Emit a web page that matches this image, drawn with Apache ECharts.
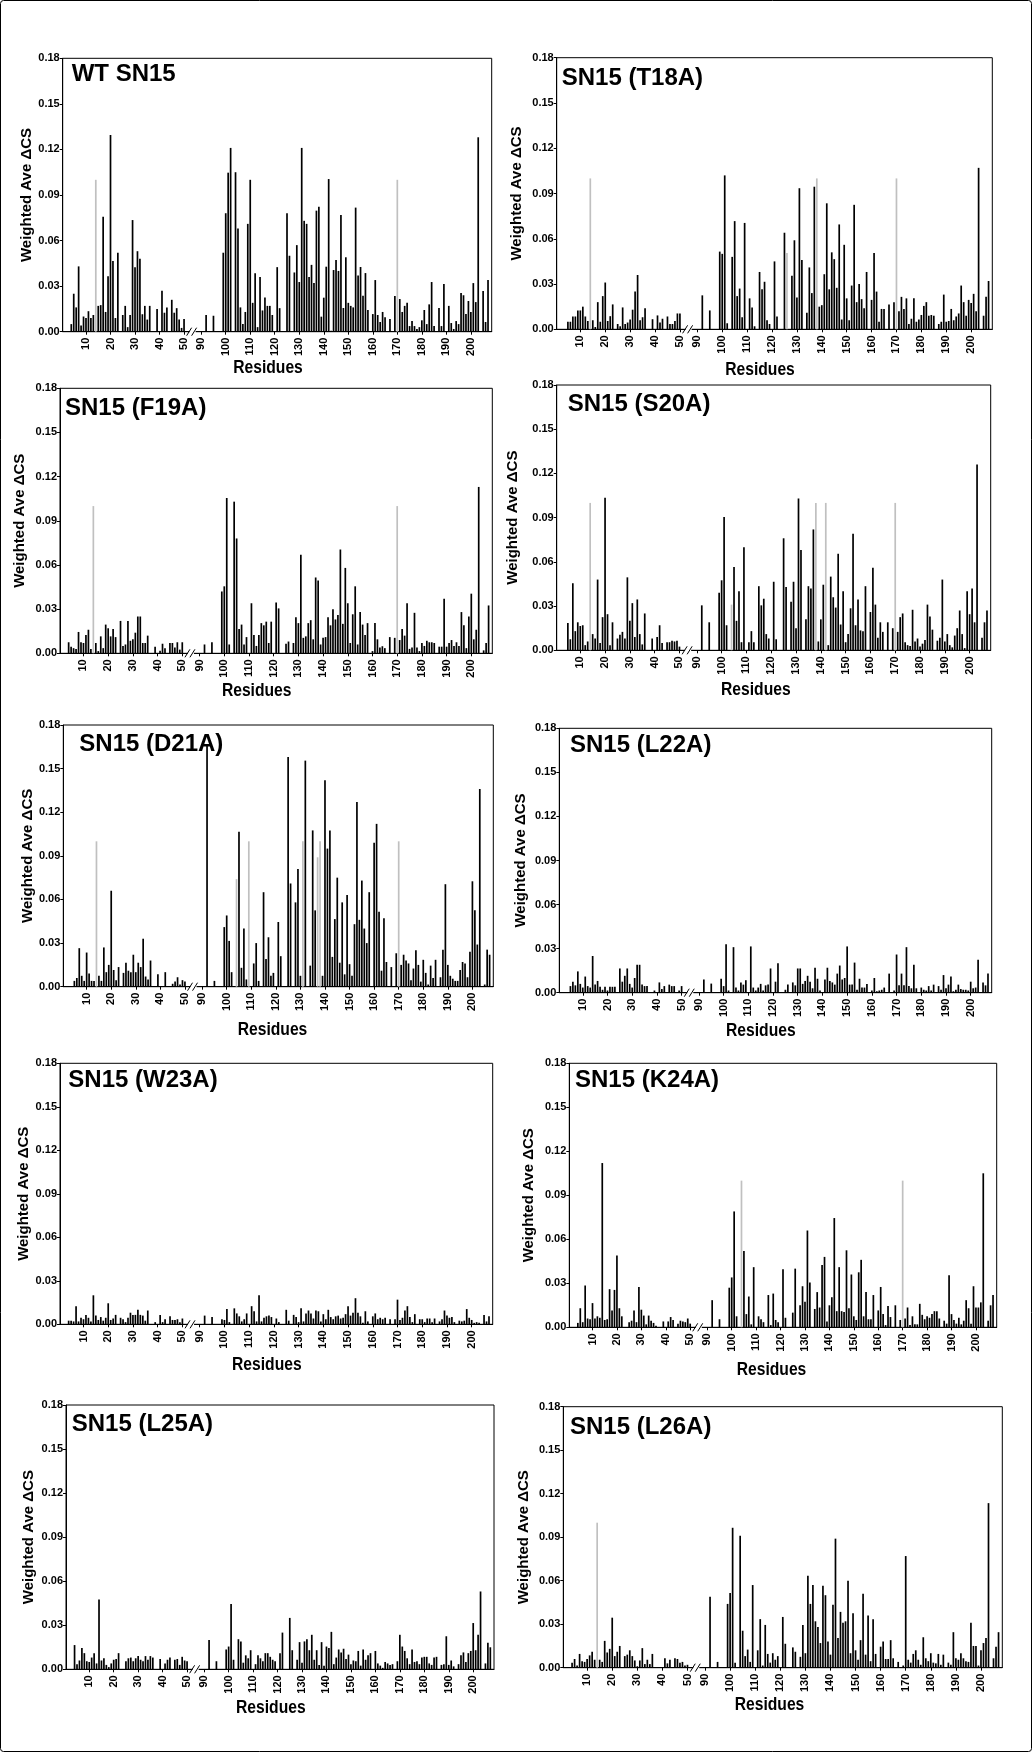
<!DOCTYPE html>
<html><head><meta charset="utf-8">
<script src="https://cdn.jsdelivr.net/npm/echarts@6/dist/echarts.min.js"></script>
<style>html,body{margin:0;padding:0;background:#fff}#c{width:1032px;height:1752px}</style>
</head><body><div id="c"></div><script>
// ---- categories (residues, axis broken between 53 and 87) ----
const RESIDUES = [];
for (let r = 1; r <= 53; r++) RESIDUES.push(String(r));
for (let r = 87; r <= 208; r++) RESIDUES.push(String(r));
const TICK_LABELS = ['10','20','30','40','50','90','100','110','120','130','140','150','160','170','180','190','200'];
const Y_TICKS = [0, 0.03, 0.06, 0.09, 0.12, 0.15, 0.18];

// ---- data: [residue, weighted average delta CS] ----
const WT_SN15 = [[4,.005],[5,.025],[6,.016],[7,.043],[8,.004],[9,.010],[10,.009],[11,.0135],[12,.009],[13,.011],[15,.017],[16,.0175],[17,.0757],[18,.013],[19,.0365],[20,.1295],[21,.0465],[22,.009],[23,.052],[25,.011],[26,.017],[27,.003],[28,.011],[29,.0735],[30,.0425],[31,.053],[32,.048],[33,.0115],[34,.017],[35,.008],[36,.017],[39,.015],[41,.027],[42,.0125],[43,.016],[45,.021],[46,.0125],[47,.0155],[48,.008],[49,.0025],[50,.0083],
[92,.011],[95,.0105],[99,.052],[100,.078],[101,.1047],[102,.121],[104,.105],[105,.068],[106,.016],[107,.005],[108,.013],[109,.071],[110,.10],[111,.019],[112,.0385],[113,.003],[114,.036],[115,.014],[116,.0225],[117,.017],[118,.017],[119,.011],[121,.0425],[122,.0155],[125,.078],[126,.05],[128,.039],[129,.057],[130,.0327],[131,.121],[132,.073],[133,.071],[134,.036],[135,.044],[136,.032],[137,.0797],[138,.0823],[139,.0099],[140,.0224],[141,.0428],[142,.1005],[143,.0007],[144,.0406],[145,.0472],[146,.040],[147,.0768],[148,.0156],[149,.049],[150,.019],[151,.017],[152,.016],[153,.0817],[154,.037],[155,.0426],[156,.0237],[157,.0386],[158,.0143],[160,.0116],[161,.034],[162,.011],[163,.0064],[164,.013],[165,.0095],[167,.0083],[169,.0235],[171,.0215],[172,.013],[173,.017],[174,.019],[175,.0037],[176,.007],[177,.0037],[178,.0018],[179,.003],[180,.0075],[181,.0143],[182,.005],[183,.018],[184,.0327],[185,.0037],[187,.0156],[188,.0037],[189,.0314],[191,.017],[192,.0057],[193,.0018],[194,.007],[195,.005],[196,.0255],[197,.024],[198,.0116],[199,.0202],[200,.013],[201,.032],[202,.0195],[203,.128],[205,.0268],[206,.0064],[207,.034]];
const WT_SN15_GREY = [[14,.10],[170,.10]];

const T18A = [[5,.005],[6,.005],[7,.0085],[8,.0085],[9,.0125],[10,.0125],[11,.015],[12,.0085],[13,.0055],[15,.006],[16,.0015],[17,.018],[18,.005],[19,.022],[20,.031],[21,.0055],[22,.0087],[23,.0165],[25,.0035],[26,.002],[27,.0145],[28,.0035],[29,.0045],[30,.0065],[31,.013],[32,.025],[33,.036],[34,.006],[35,.008],[36,.014],[39,.0067],[41,.0092],[42,.0045],[43,.007],[45,.0085],[46,.0035],[47,.0035],[48,.0055],[49,.0105],[50,.0105],
[92,.0225],[95,.0125],[99,.0515],[100,.050],[101,.102],[102,.004],[104,.048],[105,.0717],[106,.022],[107,.027],[108,.008],[109,.0705],[111,.0205],[112,.0145],[113,.002],[115,.038],[116,.0265],[117,.0315],[118,.006],[119,.0035],[121,.045],[122,.0085],[125,.064],[128,.0355],[129,.059],[130,.021],[131,.0935],[132,.046],[134,.011],[135,.041],[136,.024],[137,.0945],[139,.015],[140,.016],[141,.0365],[142,.0835],[143,.0265],[144,.051],[145,.0465],[146,.0275],[147,.0695],[148,.0065],[149,.056],[150,.0205],[151,.006],[152,.029],[153,.0825],[154,.018],[155,.030],[156,.020],[157,.014],[158,.038],[160,.0195],[161,.0505],[162,.025],[163,.005],[164,.0135],[165,.0135],[167,.0165],[169,.018],[171,.012],[172,.0215],[173,.0135],[174,.0205],[175,.0035],[176,.007],[177,.0205],[178,.005],[179,.0065],[180,.0095],[181,.0155],[182,.018],[183,.009],[184,.0095],[185,.009],[187,.0035],[188,.005],[189,.023],[190,.005],[191,.0055],[192,.0135],[193,.006],[194,.0085],[195,.0105],[196,.029],[197,.018],[198,.009],[199,.0195],[200,.0175],[201,.0235],[202,.012],[203,.107],[205,.009],[206,.0215],[207,.032]];
const T18A_GREY = [[14,.10],[126,.0505],[138,.10],[170,.10]];

const F19A = [[4,.0075],[5,.0045],[6,.0035],[7,.003],[8,.0145],[9,.0075],[10,.007],[11,.0125],[12,.016],[13,.003],[15,.007],[16,.0015],[17,.0115],[18,.0035],[19,.0195],[20,.017],[21,.0115],[22,.0165],[23,.011],[25,.022],[26,.005],[27,.006],[28,.022],[29,.0085],[30,.0095],[31,.014],[32,.025],[33,.025],[34,.007],[35,.007],[36,.012],[39,.0045],[41,.0017],[42,.0065],[43,.0035],[45,.007],[46,.007],[47,.004],[48,.0075],[49,.0025],[50,.0075],
[92,.006],[95,.0075],[99,.042],[100,.0455],[101,.1055],[102,.006],[104,.103],[105,.078],[106,.0165],[107,.0195],[108,.006],[109,.011],[111,.034],[112,.0125],[113,.005],[114,.0125],[115,.0205],[116,.019],[117,.0215],[118,.007],[119,.0215],[121,.0345],[122,.0305],[125,.0065],[126,.008],[128,.007],[129,.0245],[130,.0205],[131,.067],[132,.0105],[133,.0115],[134,.0205],[135,.0225],[136,.0095],[137,.0515],[138,.0495],[139,.006],[140,.0105],[141,.011],[142,.0245],[143,.019],[144,.030],[145,.023],[146,.026],[147,.0705],[148,.020],[149,.058],[150,.034],[151,.007],[152,.0265],[153,.0455],[154,.006],[155,.028],[156,.0195],[157,.0125],[158,.0205],[160,.0015],[161,.0205],[162,.0095],[163,.004],[164,.0048],[165,.0035],[167,.011],[169,.0105],[171,.009],[172,.0165],[173,.012],[174,.034],[175,.003],[176,.004],[177,.0275],[178,.004],[179,.0015],[180,.007],[181,.005],[182,.0085],[183,.0075],[184,.0075],[185,.007],[187,.0045],[188,.0045],[189,.037],[190,.0045],[191,.007],[192,.009],[193,.005],[194,.0075],[195,.005],[196,.028],[197,.019],[198,.0035],[199,.025],[200,.0405],[201,.0095],[202,.016],[203,.113],[205,.002],[206,.007],[207,.0325]];
const F19A_GREY = [[14,.10],[170,.10]];

const S20A = [[5,.0185],[6,.0075],[7,.0455],[8,.013],[9,.019],[10,.0165],[11,.017],[12,.0035],[13,.006],[15,.011],[16,.008],[17,.048],[18,.005],[19,.0225],[20,.1035],[21,.0245],[22,.0035],[23,.019],[25,.008],[26,.0105],[27,.0125],[28,.008],[29,.0495],[30,.020],[31,.032],[32,.009],[33,.0345],[34,.011],[35,.004],[36,.025],[39,.008],[41,.009],[42,.017],[43,.005],[45,.0055],[46,.0055],[47,.0065],[48,.006],[49,.0065],[50,.0025],
[92,.0305],[95,.019],[99,.039],[100,.0475],[101,.0905],[102,.017],[105,.0565],[106,.020],[107,.040],[108,.0055],[109,.070],[111,.0055],[112,.013],[113,.0055],[115,.0435],[116,.0305],[117,.035],[118,.011],[119,.008],[121,.0465],[122,.0075],[125,.076],[126,.043],[128,.033],[129,.0465],[130,.015],[131,.103],[132,.068],[134,.021],[135,.0435],[136,.042],[137,.082],[139,.006],[140,.021],[141,.0445],[143,.0035],[144,.050],[145,.036],[146,.029],[147,.0655],[148,.0175],[149,.040],[150,.0055],[151,.011],[152,.0285],[153,.079],[154,.017],[155,.0345],[156,.0135],[157,.013],[158,.0435],[160,.026],[161,.056],[162,.031],[163,.0085],[164,.019],[165,.0125],[167,.019],[169,.015],[171,.0125],[172,.0225],[173,.025],[174,.0055],[175,.0035],[176,.003],[177,.0275],[178,.006],[179,.008],[180,.0025],[181,.0045],[182,.007],[183,.031],[184,.023],[185,.014],[187,.0065],[188,.0085],[189,.048],[190,.006],[191,.011],[192,.0035],[193,.002],[194,.010],[195,.015],[196,.027],[197,.011],[198,.0015],[199,.040],[200,.0245],[201,.042],[202,.019],[203,.126],[205,.0085],[206,.019],[207,.027]];
const S20A_GREY = [[14,.10],[104,.031],[138,.10],[142,.10],[170,.10]];

const D21A = [[5,.004],[6,.006],[7,.0265],[8,.0075],[9,.004],[10,.0235],[11,.009],[12,.004],[13,.004],[15,.0075],[16,.004],[17,.027],[18,.010],[19,.015],[20,.066],[21,.0115],[22,.0045],[23,.0135],[25,.0095],[26,.0165],[27,.011],[28,.010],[29,.022],[30,.010],[31,.0165],[32,.0135],[33,.033],[34,.007],[35,.005],[36,.018],[39,.0085],[41,.0005],[42,.010],[45,.002],[46,.0035],[47,.0065],[48,.0015],[49,.0045],[50,.0035],
[92,.167],[95,.004],[99,.041],[100,.049],[101,.0315],[102,.010],[105,.1065],[106,.013],[107,.040],[108,.005],[111,.016],[112,.030],[113,.004],[115,.065],[116,.019],[117,.034],[118,.0075],[119,.0095],[121,.0445],[122,.021],[125,.158],[126,.071],[128,.058],[129,.081],[130,.0075],[132,.1555],[134,.0145],[135,.1075],[136,.0525],[139,.0075],[140,.142],[141,.095],[142,.1075],[143,.0205],[144,.0465],[145,.075],[146,.0165],[147,.058],[148,.0085],[149,.063],[150,.0155],[151,.0075],[152,.043],[153,.127],[154,.046],[155,.073],[156,.040],[157,.030],[158,.065],[160,.099],[161,.112],[162,.0515],[163,.011],[164,.047],[165,.017],[167,.0135],[169,.023],[171,.015],[172,.022],[173,.018],[174,.016],[175,.0045],[176,.0125],[177,.025],[178,.015],[179,.0035],[180,.0185],[181,.0095],[182,.0015],[183,.0145],[184,.006],[185,.0185],[187,.0065],[188,.0255],[189,.0705],[190,.015],[191,.0075],[192,.0055],[193,.004],[194,.004],[195,.0115],[196,.017],[197,.016],[198,.0065],[199,.024],[200,.0725],[201,.0525],[202,.029],[203,.136],[205,.0015],[206,.0255],[207,.022]];
const D21A_GREY = [[14,.10],[104,.074],[109,.10],[131,.10],[137,.089],[138,.10],[170,.10]];

const L22A = [[5,.0045],[6,.0075],[7,.005],[8,.0145],[9,.006],[10,.0035],[11,.011],[12,.0045],[13,.0035],[14,.025],[15,.0055],[16,.008],[17,.004],[18,.002],[19,.004],[20,.0015],[21,.004],[22,.004],[23,.004],[25,.0165],[26,.0075],[27,.0115],[28,.0165],[29,.006],[30,.0035],[31,.010],[32,.019],[33,.019],[34,.0055],[35,.0045],[36,.0045],[39,.0015],[41,.007],[42,.0025],[43,.0045],[45,.0055],[46,.0045],[47,.0045],[49,.0015],[50,.0045],
[92,.009],[95,.0062],[99,.0095],[100,.0045],[101,.033],[102,.0015],[104,.031],[105,.0035],[106,.0015],[107,.007],[108,.0055],[109,.0085],[111,.0315],[112,.0035],[113,.0015],[114,.0035],[115,.006],[116,.0015],[117,.005],[118,.0055],[119,.0165],[121,.0075],[122,.020],[125,.002],[126,.0055],[128,.007],[129,.005],[130,.0165],[131,.0165],[132,.006],[133,.008],[134,.0115],[135,.0075],[136,.003],[137,.017],[138,.0095],[139,.0015],[141,.009],[142,.017],[143,.008],[144,.007],[145,.0055],[146,.013],[147,.0185],[148,.009],[149,.010],[150,.0315],[151,.0055],[152,.0055],[153,.0205],[154,.002],[155,.0095],[156,.0035],[157,.0035],[158,.006],[160,.0015],[161,.010],[162,.001],[163,.0015],[164,.002],[165,.0035],[167,.013],[169,.0015],[170,.026],[171,.005],[172,.013],[173,.005],[174,.031],[175,.0045],[176,.003],[177,.019],[178,.003],[180,.0035],[181,.002],[182,.0015],[183,.0045],[184,.0015],[185,.0055],[187,.0045],[188,.002],[189,.012],[190,.003],[191,.0055],[192,.011],[193,.001],[194,.002],[195,.0055],[196,.0025],[197,.002],[198,.002],[199,.0015],[200,.0075],[201,.003],[202,.0035],[203,.0225],[205,.007],[206,.005],[207,.013]];
const L22A_GREY = [];

const W23A = [[4,.0025],[5,.0025],[6,.002],[7,.0125],[8,.002],[9,.0045],[10,.0035],[11,.0065],[12,.0045],[13,.002],[14,.020],[15,.006],[16,.003],[17,.005],[18,.0025],[19,.0045],[20,.0145],[21,.003],[22,.004],[23,.0065],[25,.0045],[26,.0035],[27,.0015],[28,.0045],[29,.008],[30,.0065],[31,.0065],[32,.010],[33,.0065],[34,.006],[35,.0025],[36,.0095],[39,.0015],[41,.0065],[42,.0015],[43,.0035],[45,.0055],[46,.003],[47,.003],[48,.0035],[49,.0015],[50,.004],
[92,.006],[95,.005],[99,.0035],[100,.003],[101,.0105],[102,.0015],[104,.011],[105,.0075],[106,.0055],[107,.002],[108,.0035],[109,.0075],[111,.0125],[112,.009],[113,.002],[114,.020],[115,.002],[116,.0045],[117,.0055],[118,.006],[119,.005],[121,.004],[122,.0015],[125,.010],[126,.0025],[128,.0065],[129,.005],[130,.0015],[131,.011],[132,.002],[133,.0075],[134,.0095],[135,.0075],[136,.004],[137,.0095],[138,.009],[139,.002],[140,.007],[141,.0035],[142,.010],[143,.005],[144,.0035],[145,.0055],[146,.006],[147,.004],[148,.0045],[149,.007],[150,.0125],[151,.006],[152,.008],[153,.018],[154,.008],[155,.0055],[156,.001],[157,.009],[158,.002],[160,.0055],[161,.0075],[162,.0035],[163,.0045],[164,.0035],[165,.0045],[167,.0035],[169,.0035],[170,.017],[171,.003],[172,.0045],[173,.0095],[174,.0125],[175,.005],[176,.0015],[177,.007],[179,.0035],[180,.0035],[181,.0015],[182,.004],[183,.004],[184,.0015],[185,.004],[187,.002],[188,.0035],[189,.0095],[190,.006],[191,.0045],[192,.005],[193,.0015],[195,.0025],[196,.002],[197,.0025],[198,.0105],[199,.0045],[200,.003],[201,.001],[202,.0015],[203,.001],[205,.0065],[206,.002],[207,.0055]];
const W23A_GREY = [];

const K24A = [[4,.003],[5,.013],[6,.0035],[7,.0285],[8,.006],[9,.0055],[10,.0165],[11,.006],[12,.0075],[13,.0065],[14,.112],[15,.005],[16,.0055],[17,.026],[18,.0115],[19,.0255],[20,.049],[21,.013],[22,.0075],[25,.0035],[26,.0045],[27,.0115],[28,.0035],[29,.0275],[30,.012],[31,.008],[32,.002],[33,.008],[34,.0045],[35,.003],[36,.001],[39,.004],[41,.004],[42,.007],[43,.005],[45,.0025],[46,.0045],[47,.004],[48,.0035],[49,.006],[50,.0025],
[92,.0185],[95,.0055],[99,.027],[100,.034],[101,.079],[102,.0075],[105,.052],[106,.009],[107,.021],[108,.002],[109,.041],[111,.0075],[112,.0055],[113,.0035],[115,.022],[116,.0015],[117,.023],[118,.005],[119,.0035],[121,.0395],[122,.0065],[125,.010],[126,.040],[128,.015],[129,.028],[130,.0175],[131,.066],[132,.0305],[134,.0125],[135,.024],[136,.0135],[137,.0425],[138,.048],[139,.004],[140,.015],[141,.0205],[142,.0745],[143,.011],[144,.041],[145,.011],[146,.0105],[147,.0525],[148,.013],[149,.036],[150,.0075],[151,.005],[152,.0375],[153,.046],[154,.0075],[155,.024],[156,.0055],[157,.0055],[158,.022],[160,.0115],[161,.0275],[162,.009],[163,.0015],[164,.0145],[165,.007],[167,.015],[169,.005],[171,.006],[172,.0135],[173,.0015],[174,.0075],[175,.002],[176,.002],[177,.016],[178,.0085],[179,.0055],[180,.0075],[181,.0065],[182,.009],[183,.011],[184,.011],[185,.006],[187,.0045],[188,.0025],[189,.0355],[190,.009],[191,.005],[192,.0025],[193,.0065],[194,.002],[195,.0045],[196,.0185],[197,.013],[198,.0025],[199,.028],[200,.0135],[201,.0135],[202,.017],[203,.105],[205,.0045],[206,.015],[207,.022]];
const K24A_GREY = [[104,.10],[170,.10]];

const L25A = [[4,.0165],[5,.0035],[6,.006],[7,.0145],[8,.011],[9,.0055],[10,.005],[11,.008],[12,.011],[13,.004],[14,.0475],[15,.006],[16,.0075],[17,.003],[18,.0015],[19,.004],[20,.0065],[21,.007],[22,.011],[25,.0055],[26,.0075],[27,.008],[28,.0055],[29,.0075],[30,.009],[31,.0065],[32,.0055],[33,.009],[34,.0065],[35,.009],[36,.008],[39,.007],[41,.004],[42,.0065],[43,.008],[45,.0065],[46,.007],[47,.003],[48,.0085],[49,.006],[50,.0055],
[92,.020],[95,.0055],[99,.0135],[100,.0155],[101,.0445],[102,.0065],[104,.0205],[105,.019],[106,.0045],[107,.0095],[108,.0075],[109,.013],[111,.0035],[112,.0095],[113,.0075],[114,.0055],[115,.011],[116,.011],[117,.0085],[118,.0065],[119,.0055],[121,.011],[122,.025],[125,.035],[126,.013],[128,.0065],[129,.0185],[130,.0045],[131,.019],[132,.0205],[133,.013],[134,.0235],[135,.0065],[136,.013],[137,.003],[138,.0185],[139,.0025],[140,.0155],[141,.0145],[142,.0255],[143,.0035],[144,.008],[145,.0135],[146,.0115],[147,.014],[148,.007],[149,.010],[150,.0035],[151,.006],[152,.0055],[153,.0125],[154,.0025],[155,.0135],[156,.0065],[157,.0095],[158,.011],[160,.0125],[161,.004],[162,.0025],[163,.001],[164,.005],[165,.004],[166,.003],[167,.0035],[169,.0055],[170,.0235],[171,.0155],[172,.0125],[173,.0075],[174,.0035],[175,.0135],[176,.005],[177,.0055],[178,.0035],[179,.008],[180,.0085],[181,.0085],[182,.004],[183,.003],[184,.008],[185,.0085],[187,.003],[188,.0035],[189,.0225],[190,.003],[191,.006],[192,.002],[194,.0035],[195,.0095],[196,.0115],[197,.005],[198,.011],[199,.0125],[200,.0315],[201,.013],[202,.0235],[203,.053],[205,.004],[206,.018],[207,.015]];
const L25A_GREY = [];

const L26A = [[4,.0035],[5,.006],[6,.0015],[7,.0095],[8,.0045],[9,.004],[10,.006],[11,.0085],[12,.011],[13,.0055],[15,.0055],[16,.004],[17,.0185],[18,.0105],[19,.013],[20,.0345],[21,.008],[22,.011],[23,.015],[25,.008],[26,.009],[27,.012],[28,.008],[29,.005],[30,.001],[31,.005],[32,.0135],[33,.0025],[34,.0055],[35,.0025],[36,.0095],[39,.0005],[41,.0065],[42,.003],[43,.0055],[45,.0065],[46,.006],[47,.0035],[48,.004],[49,.0015],[50,.002],
[92,.049],[95,.004],[99,.044],[100,.0515],[101,.0965],[102,.0035],[104,.091],[105,.0255],[106,.008],[107,.0125],[108,.004],[109,.057],[111,.012],[112,.0335],[113,.0015],[114,.0295],[115,.0095],[116,.0035],[117,.010],[118,.0055],[119,.008],[121,.035],[122,.0165],[125,.014],[126,.011],[128,.0075],[129,.0295],[130,.010],[131,.0635],[132,.044],[133,.057],[134,.032],[135,.028],[136,.017],[137,.0565],[138,.050],[139,.018],[140,.009],[141,.0435],[142,.089],[143,.0205],[144,.0385],[145,.031],[146,.032],[147,.060],[148,.010],[149,.0375],[150,.012],[151,.0055],[152,.019],[153,.051],[154,.009],[155,.036],[156,.0045],[157,.0335],[158,.0095],[160,.0145],[161,.018],[162,.006],[163,.006],[164,.019],[165,.0065],[167,.004],[169,.0015],[170,.077],[171,.0055],[172,.0035],[173,.0095],[174,.012],[175,.0055],[176,.002],[177,.021],[178,.0065],[179,.0045],[180,.010],[181,.0035],[182,.003],[183,.0095],[184,.002],[185,.009],[187,.0035],[188,.002],[189,.0245],[190,.0065],[191,.0055],[192,.010],[193,.0065],[194,.0045],[195,.004],[196,.031],[197,.015],[198,.015],[199,.0015],[200,.012],[201,.017],[202,.0205],[203,.1135],[205,.0065],[206,.0145],[207,.0245]];
const L26A_GREY = [[14,.10]];

const PANELS = [
  {title:'WT SN15',     black:WT_SN15, grey:WT_SN15_GREY},
  {title:'SN15 (T18A)', black:T18A, grey:T18A_GREY},
  {title:'SN15 (F19A)', black:F19A, grey:F19A_GREY},
  {title:'SN15 (S20A)', black:S20A, grey:S20A_GREY},
  {title:'SN15 (D21A)', black:D21A, grey:D21A_GREY},
  {title:'SN15 (L22A)', black:L22A, grey:L22A_GREY},
  {title:'SN15 (W23A)', black:W23A, grey:W23A_GREY},
  {title:'SN15 (K24A)', black:K24A, grey:K24A_GREY},
  {title:'SN15 (L25A)', black:L25A, grey:L25A_GREY},
  {title:'SN15 (L26A)', black:L26A, grey:L26A_GREY}
];

// ---- layout (pixels) ----
const LAYOUT = [
  {grid:[62.7,58.3,491.7,331.7],   title:[71.7,65.7],   xname:[268,361.7],   ygap:28},
  {grid:[556.7,57.7,992.3,329.3],  title:[561.7,70],    xname:[760,363.3],   ygap:32},
  {grid:[60,388.3,492.3,653.3],    title:[65,400],      xname:[256.7,685],   ygap:33},
  {grid:[556.7,385,990.7,650.3],   title:[567.7,395.7], xname:[755.8,683.3], ygap:36},
  {grid:[63.3,725,493.3,986.7],    title:[79.3,736],    xname:[272.5,1023.3],ygap:28},
  {grid:[559.3,728.3,991.7,992.7], title:[570,736.7],   xname:[760.8,1025],  ygap:31},
  {grid:[60,1063.3,492.7,1324.3],  title:[68.3,1071.7], xname:[266.8,1358.3],ygap:28},
  {grid:[569.3,1063.3,996.7,1327.3],title:[575,1071.7], xname:[771.5,1363.3],ygap:33},
  {grid:[66,1405,494,1669.3],      title:[71.7,1416],   xname:[270.8,1701.7],ygap:30},
  {grid:[563.3,1406.7,1002.3,1667.7],title:[570,1418.3],xname:[769.5,1698.3],ygap:32}
];

const FONT = '"Liberation Sans", Arial, Helvetica, sans-serif';
const TICK_SET = new Set(TICK_LABELS);
const BW = 1.7;
function dense(pairs) {
  const m = new Map(pairs.map(p => [String(p[0]), p[1]]));
  return RESIDUES.map(r => m.has(r) ? m.get(r) : null);
}

const chart = echarts.init(document.getElementById('c'), null, {renderer: 'canvas'});
const grids = [], xAxes = [], yAxes = [], series = [];
PANELS.forEach((p, i) => {
  const [l, t, r, b] = LAYOUT[i].grid;
  grids.push({left: l, top: t, width: r - l, height: b - t, show: true, borderColor: '#000', borderWidth: 1, backgroundColor: 'rgba(0,0,0,0)'});
  xAxes.push({
    gridIndex: i, type: 'category', data: RESIDUES, boundaryGap: true,
    axisLine: {show: true, lineStyle: {color: '#000', width: 1}},
    axisTick: {show: true, interval: (idx, v) => TICK_SET.has(v), alignWithLabel: true, length: 3, lineStyle: {color: '#000'}},
    axisLabel: {interval: (idx, v) => TICK_SET.has(v), rotate: 90, color: '#000', fontFamily: FONT, fontWeight: 'bold', fontSize: 11, margin: 6},
    splitLine: {show: false}
  });
  yAxes.push({
    gridIndex: i, type: 'value', min: Y_TICKS[0], max: Y_TICKS[Y_TICKS.length - 1], interval: 0.03,
    name: 'Weighted Ave \u0394CS', nameLocation: 'middle', nameGap: LAYOUT[i].ygap, nameRotate: 90,
    nameTextStyle: {color: '#000', fontSize: 15, fontWeight: 'bold', fontFamily: FONT},
    axisLine: {show: true, lineStyle: {color: '#000'}},
    axisTick: {show: true, length: 3, lineStyle: {color: '#000'}},
    axisLabel: {formatter: v => v.toFixed(2), color: '#000', fontFamily: FONT, fontWeight: 'bold', fontSize: 11, margin: 3},
    splitLine: {show: false}
  });
  series.push({type: 'bar', xAxisIndex: i, yAxisIndex: i, data: dense(p.grey), barWidth: BW, barGap: '-100%', itemStyle: {color: '#c0c0c0'}, silent: true});
  series.push({type: 'bar', xAxisIndex: i, yAxisIndex: i, data: dense(p.black), barWidth: BW, barGap: '-100%', itemStyle: {color: '#000'}, silent: true});
});
chart.setOption({animation: false, grid: grids, xAxis: xAxes, yAxis: yAxes, series: series});

// ---- decorations: titles, axis names, axis breaks, outer frame ----
const g = [];
g.push({type: 'rect', shape: {x: 0.5, y: 0.5, width: 1031, height: 1751, r: 3}, style: {fill: 'none', stroke: '#000', lineWidth: 1}, silent: true, z: 100});
PANELS.forEach((p, i) => {
  const L = LAYOUT[i];
  g.push({type: 'text', x: L.title[0], y: L.title[1] + 0.358 * 24, z: 100, silent: true,
    style: {text: p.title, font: 'bold 24px ' + FONT, fill: '#000', textAlign: 'left', textVerticalAlign: 'middle', align: 'left', verticalAlign: 'middle'}});
  g.push({type: 'text', x: L.xname[0], y: L.xname[1] + 0.358 * 18, scaleX: 0.87, z: 100, silent: true,
    style: {text: 'Residues', font: 'bold 18px ' + FONT, fill: '#000', textAlign: 'center', textVerticalAlign: 'middle', align: 'center', verticalAlign: 'middle'}});
  const xa = chart.convertToPixel({xAxisIndex: i}, '53');
  const xb = chart.convertToPixel({xAxisIndex: i}, '87');
  const y0 = chart.convertToPixel({yAxisIndex: i}, 0);
  const cx = (xa + xb) / 2;
  g.push({type: 'rect', shape: {x: cx - 3, y: y0 - 2, width: 6, height: 4}, style: {fill: '#fff'}, z: 101, silent: true});
  g.push({type: 'line', shape: {x1: cx - 6, y1: y0 + 4, x2: cx - 1, y2: y0 - 4}, style: {stroke: '#000', lineWidth: 1}, z: 102, silent: true});
  g.push({type: 'line', shape: {x1: cx - 1, y1: y0 + 4, x2: cx + 4, y2: y0 - 4}, style: {stroke: '#000', lineWidth: 1}, z: 102, silent: true});
});
chart.setOption({graphic: g});
</script></body></html>
